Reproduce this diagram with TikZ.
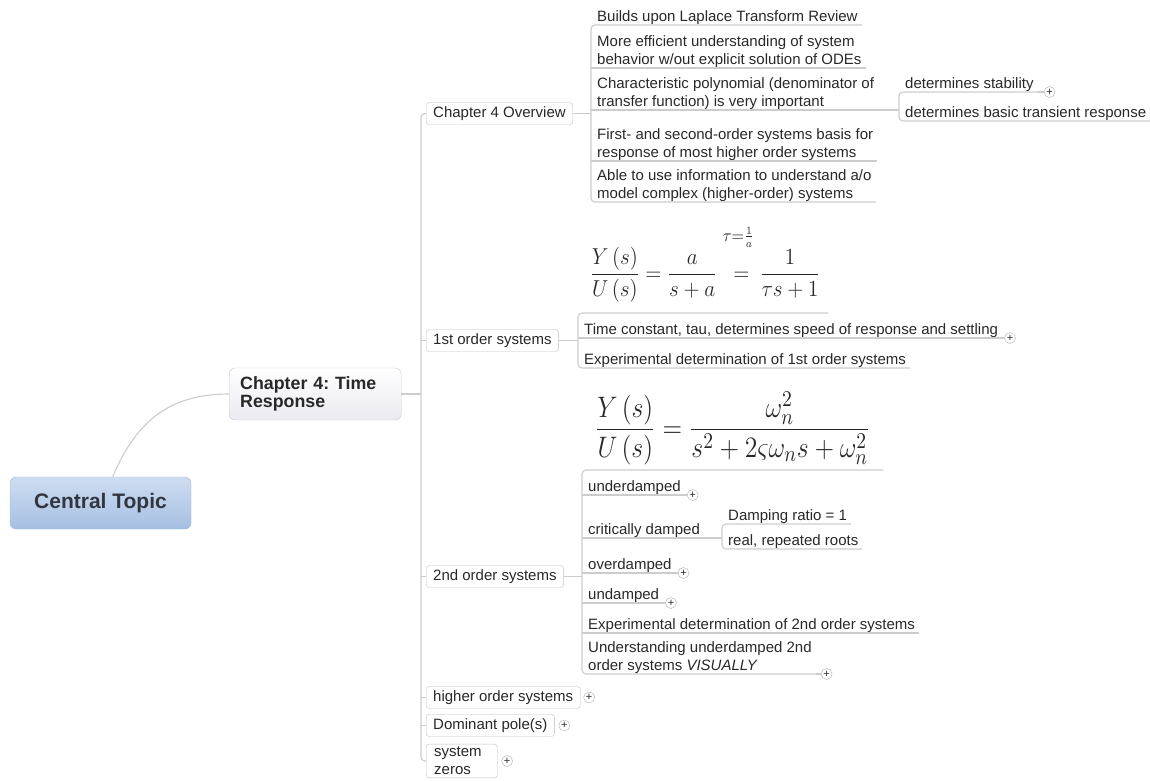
\documentclass[tikz,border=0pt]{standalone}
\usepackage{amsmath}
\usepackage[no-math]{fontspec}
\setmainfont{Liberation Sans}
\usepackage{graphicx}
\frenchspacing
\definecolor{linegray}{RGB}{204,204,204}
\definecolor{boxline}{RGB}{192,192,192}
\definecolor{textdark}{RGB}{40,40,40}
\definecolor{topiclight}{RGB}{206,221,241}
\definecolor{topicblue}{RGB}{166,191,226}
\definecolor{topicline}{RGB}{160,182,214}
\definecolor{topictext}{RGB}{50,54,64}
\definecolor{mainline}{RGB}{200,200,210}
\definecolor{mainfill}{RGB}{234,234,241}
\definecolor{plusline}{RGB}{175,175,175}
\usetikzlibrary{positioning}

\begin{document}
\begin{tikzpicture}[x=1pt,y=-1pt,
  font=\fontsize{15}{18}\selectfont, text=textdark,
  conn/.style={draw=linegray,line width=1.1pt},
  central/.style={draw=topicline,rounded corners=6pt,top color=topiclight,bottom color=topicblue,
    minimum width=181pt,minimum height=52pt,font=\fontsize{21}{24}\selectfont\bfseries,text=topictext},
  mainbox/.style={draw=mainline,rounded corners=6pt,top color=white,bottom color=mainfill,
    minimum height=52pt,text width=150pt,inner xsep=11pt,align=left,anchor=west,
    font=\fontsize{17.8}{18.5}\selectfont\bfseries},
  subtopic/.style={draw=boxline,fill=white,rounded corners=3pt,anchor=west,inner xsep=7pt,
    inner ysep=3pt,minimum height=22pt,align=left},
  leaf/.style={anchor=south west,align=left,inner xsep=4pt,inner ysep=0pt},
  formula/.style={anchor=south west,inner xsep=8pt,inner ysep=11pt},
  plusmark/.style={circle,draw=plusline,fill=white,inner sep=0pt,minimum size=11pt,
    font=\fontsize{11}{11}\selectfont}
]
\useasboundingbox (0,0) rectangle (1150,780);

% Central topic and main branch
\node[central] (central) at (100.5,503) {Central Topic};
\node[mainbox] (ch4) at (229,394) {Chapter 4: Time\\Response};
\draw[conn] (central.65) .. controls +(25,-60) and +(-55,0) .. (ch4.west);

% Second level
\node[subtopic] (ov) at (426,113.5) {Chapter 4 Overview};
\node[subtopic] (first) at (426,340.5) {1st order systems};
\node[subtopic] (second) at (426,576.5) {2nd order systems};
\node[subtopic] (higher) at (426,697.5) {higher order systems};
\node[subtopic] (dom) at (426,725.5) {Dominant pole(s)};
\node[subtopic,text width=55pt,inner xsep=8pt] (zeros) at (426,761) {system\\zeros};
\node[plusmark,right=3pt of higher] (phigher) {+};
\node[plusmark,right=4pt of dom] (pdom) {+};
\node[plusmark,right=4pt of zeros] (pzeros) {+};

% Trunk
\coordinate (trunk) at (421,394);
\draw[conn] (ch4.east) -- (trunk);
\draw[conn,rounded corners=4pt] (ov.west) -| (trunk) |- (zeros.west);
\foreach \n in {first,second,higher,dom}
  \draw[conn] (\n.west) -- (\n.west -| trunk);

% Overview children
\node[leaf] (ov1) at (593,25) {Builds upon Laplace Transform Review};
\node[leaf] (ov2) at (593,68) {More efficient understanding of system\\behavior w/out explicit solution of ODEs};
\node[leaf] (ov3) at (593,110) {Characteristic polynomial (denominator of\\transfer function) is very important};
\node[leaf] (ov4) at (593,161) {First- and second-order systems basis for\\response of most higher order systems};
\node[leaf] (ov5) at (593,202) {Able to use information to understand a/o\\model complex (higher-order) systems};
\coordinate (ovbr) at (591,113.5);
\draw[conn] (ov.east) -- (ovbr);
\draw[conn,rounded corners=4pt] (ov1.south east) -| (ovbr) |- (ov5.south east);
\foreach \n in {ov2,ov3,ov4}
  \draw[conn] (\n.south east) -- (\n.south -| ovbr);

% Characteristic polynomial children
\node[leaf] (d1) at (901,92) {determines stability};
\node[leaf] (d2) at (901,121) {determines basic transient response};
\coordinate (dbr) at (899,110);
\draw[conn] (ov3.south east) -- (dbr);
\draw[conn,rounded corners=4pt] (d1.south east) -| (dbr) |- (d2.south east);
\node[plusmark,right=6pt of d1.south east] (pd1) {+};
\draw[conn] (d1.south east) -- (pd1);

% 1st order children
\node[formula] (f0) at (582,313)
  {\resizebox*{230pt}{77pt}{$\displaystyle\frac{Y\,(s)}{U\,(s)}=\frac{a}{s+a}
   \mathrel{\overset{\tau=\frac{1}{a}}{\vphantom{\frac{1}{1}}=}}\frac{1}{\tau s+1}$}};
\node[leaf] (t1) at (580,338) {Time constant, tau, determines speed of response and settling};
\node[leaf] (t2) at (580,368) {Experimental determination of 1st order systems};
\coordinate (fobr) at (578,340.5);
\draw[conn] (first.east) -- (fobr);
\draw[conn,rounded corners=4pt] (f0.south east) -| (fobr) |- (t2.south east);
\draw[conn] (t1.south east) -- (t1.south -| fobr);
\node[plusmark,right=2pt of t1.south east] (pt1) {+};
\draw[conn] (t1.south east) -- (pt1);

% 2nd order children
\node[formula,inner xsep=13pt,inner ysep=5pt] (s0) at (582,470)
  {\resizebox*{275pt}{73pt}{$\displaystyle\frac{Y\,(s)}{U\,(s)}=\frac{\omega_n^2}{s^2+2\varsigma\omega_n s+\omega_n^2}$}};
\node[leaf] (s1) at (584,495) {underdamped};
\node[leaf] (s2) at (584,538) {critically damped};
\node[leaf] (s3) at (584,573) {overdamped};
\node[leaf] (s4) at (584,603) {undamped};
\node[leaf] (s5) at (584,633) {Experimental determination of 2nd order systems};
\node[leaf] (s6) at (584,674) {Understanding underdamped 2nd\\order systems \textit{VISUALLY}};
\coordinate (sobr) at (582,576.5);
\draw[conn] (second.east) -- (sobr);
\draw[conn,rounded corners=4pt] (s0.south east) -| (sobr) |- (s6.south east);
\foreach \n in {s1,s2,s3,s4,s5}
  \draw[conn] (\n.south east) -- (\n.south -| sobr);
\foreach \n/\d in {s1/2pt,s3/2pt,s4/2pt,s6/5pt}{
  \node[plusmark,right=\d of \n.south east] (p\n) {+};
  \draw[conn] (\n.south east) -- (p\n);
}

% critically damped children
\node[leaf] (c1) at (724,524) {Damping ratio = 1};
\node[leaf] (c2) at (724,549) {real, repeated roots};
\coordinate (cbr) at (722,538);
\draw[conn] (s2.south east) -- (cbr);
\draw[conn,rounded corners=4pt] (c1.south east) -| (cbr) |- (c2.south east);
\end{tikzpicture}
\end{document}
